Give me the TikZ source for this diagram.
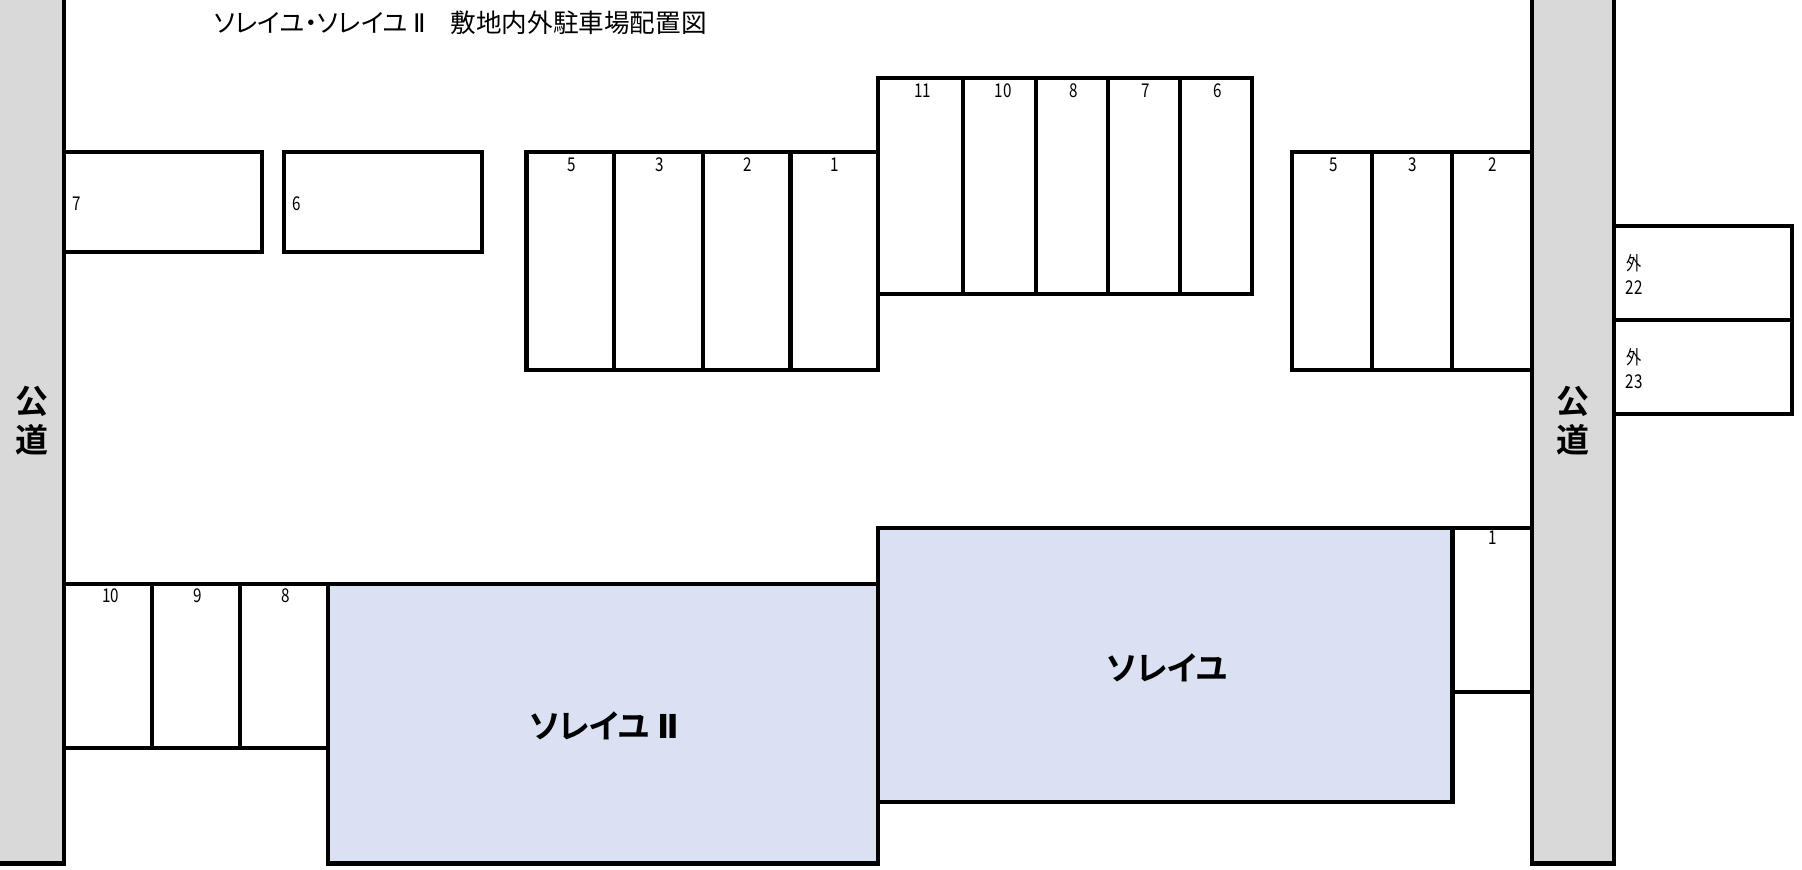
\documentclass[tikz,border=0pt]{standalone}
\usepackage{fontspec}
\setmainfont{Noto Sans CJK JP}
\newfontfamily\jp[RawFeature=+palt]{Noto Sans CJK JP}
\newfontfamily\jpb[RawFeature=+palt]{Noto Sans CJK JP Bold}
\newfontfamily\rom{DejaVu Sans}
\newfontfamily\romb{DejaVu Sans Bold}
\definecolor{roadgray}{HTML}{D9D9D9}
\definecolor{bldblue}{HTML}{D9E1F2}
\tikzset{
  plan/.style={line width=4.2pt,draw=black,line cap=butt,line join=miter},
  num/.style={inner sep=0pt,font=\jp\fontsize{19}{19}\selectfont,xscale=0.8},
  road/.style={inner sep=0pt,font=\jpb\fontsize{33}{33}\selectfont},
  bld/.style={inner sep=0pt,font=\jpb\fontsize{33}{33}\selectfont},
  heading/.style={inner sep=0pt,anchor=west,font=\jp\fontsize{25.6}{25.6}\selectfont},
}
\begin{document}
\begin{tikzpicture}[x=1pt,y=-1pt]
\useasboundingbox (0,0) rectangle (1802,870);
% roads
\fill[roadgray] (0,0) rectangle (64.3,863.5);
\fill[roadgray] (1532.3,0) rectangle (1614,863.5);
\draw[plan] (64.3,0) -- (64.3,863.5) -- (0,863.5);
\draw[plan] (1532.3,0) -- (1532.3,863.5) -- (1614,863.5) -- (1614,0);
% buildings
\draw[plan,fill=bldblue] (327.8,584) rectangle (878.3,863.5);
\draw[plan,fill=bldblue] (878.3,528) rectangle (1452.4,801.7);
% upper-left single bays
\draw[plan] (64.3,152) -- (262.3,152) -- (262.3,251.7) -- (64.3,251.7);
\draw[plan] (284.2,152) rectangle (481.6,251.7);
% row 5 3 2 1
\draw[plan] (526.4,152) rectangle (878.3,369.7);
\draw[plan] (614.2,152) -- (614.2,369.7) (702.6,152) -- (702.6,369.7) (790.5,152) -- (790.5,369.7);
% row 11 10 8 7 6
\draw[plan] (878.3,78) rectangle (1251.6,293.7);
\draw[plan] (963.3,78) -- (963.3,293.7) (1035.8,78) -- (1035.8,293.7) (1107.7,78) -- (1107.7,293.7) (1180.2,78) -- (1180.2,293.7);
% row 5 3 2 right
\draw[plan] (1532.3,152) -- (1291.8,152) -- (1291.8,369.7) -- (1532.3,369.7);
\draw[plan] (1371.8,152) -- (1371.8,369.7) (1451.8,152) -- (1451.8,369.7);
% outside bays
\draw[plan] (1614,226) -- (1792,226) -- (1792,413.7) -- (1614,413.7);
\draw[plan] (1614,319.7) -- (1792,319.7);
% lower-left row
\draw[plan] (64.3,584) -- (327.8,584) (64.3,747.7) -- (327.8,747.7);
\draw[plan] (152.1,584) -- (152.1,747.7) (240,584) -- (240,747.7);
% bay 1
\draw[plan] (1452.4,528) -- (1532.3,528) (1452.4,691.7) -- (1532.3,691.7);
% texts
\node[heading] (title) at (213.7,23) {ソレイユ・ソレイユ\hspace{5pt}{\rom Ⅱ}\hspace{25pt}敷地内外駐車場配置図};
\node[road] (r1a) at (32,401) {公};
\node[road] (r1b) at (32,440) {道};
\node[road] (r2a) at (1573,401) {公};
\node[road] (r2b) at (1573,440) {道};
\node[bld] (b2) at (604,726) {ソレイユ\hspace{7pt}{\romb Ⅱ}};
\node[bld] (b1) at (1167,668) {ソレイユ};
\node[num] (a5) at (572,165) {5};
\node[num] (a3) at (660,165) {3};
\node[num] (a2) at (747.5,165) {2};
\node[num] (a1) at (835,165) {1};
\node[num] (c11) at (922.5,91) {11};
\node[num] (c10) at (1003,91) {10};
\node[num] (c8) at (1073.5,91) {8};
\node[num] (c7) at (1146,91) {7};
\node[num] (c6) at (1218,91) {6};
\node[num] (d5) at (1333.5,165) {5};
\node[num] (d3) at (1413,165) {3};
\node[num] (d2) at (1493,165) {2};
\node[num] (s7) at (77,203.5) {7};
\node[num] (s6) at (297,203.5) {6};
\node[num] (o1) at (1634.5,263) {外};
\node[num] (o22) at (1634,287.5) {22};
\node[num] (o2) at (1634.5,357) {外};
\node[num] (o23) at (1634,381.5) {23};
\node[num] (e10) at (110.8,596) {10};
\node[num] (e9) at (197.5,596) {9};
\node[num] (e8) at (285.3,596) {8};
\node[num] (f1) at (1493,538) {1};
\end{tikzpicture}
\end{document}
